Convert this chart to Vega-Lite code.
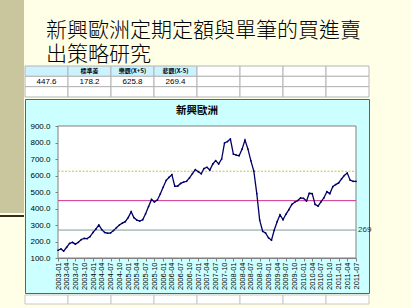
{
  "$schema": "https://vega.github.io/schema/vega-lite/v6.json",
  "background": "#FFFEE6",
  "padding": {"left": 0, "top": 0, "right": 43, "bottom": 9},
  "spacing": 0,
  "config": {"view": {"stroke": null}, "concat": {"spacing": 0}},
  "hconcat": [
    {
      "spacing": 0,
      "vconcat": [
        {"width": 24, "height": 213, "view": {"fill": "#C9C59C"}, "data": {"values": [{}]}, "mark": {"type": "point", "opacity": 0}},
        {"width": 24, "height": 2, "view": {"fill": "#3A2A1A"}, "data": {"values": [{}]}, "mark": {"type": "point", "opacity": 0}}
      ]
    },
    {
      "spacing": 0,
      "vconcat": [
        {
          "width": 344, "height": 65,
          "data": {"values": [{}]},
          "mark": {"type": "point", "opacity": 0},
          "title": {
            "text": ["新興歐洲定期定額與單筆的買進賣", "出策略研究"],
            "orient": "top", "anchor": "start", "offset": -86, "dx": 21,
            "baseline": "bottom", "lineHeight": 24.5,
            "font": "Noto Sans CJK TC", "fontSize": 21, "fontWeight": 300, "color": "#000000"
          }
        },
        {
          "width": 344, "height": 31,
          "data": {"values": [
            {"r": 0, "c": 0, "t": ""}, {"r": 0, "c": 1, "t": "標準差"}, {"r": 0, "c": 2, "t": "樂觀(X+S)"}, {"r": 0, "c": 3, "t": "悲觀(X-S)"},
            {"r": 0, "c": 4, "t": ""}, {"r": 0, "c": 5, "t": ""}, {"r": 0, "c": 6, "t": ""}, {"r": 0, "c": 7, "t": ""},
            {"r": 1, "c": 0, "t": "447.6"}, {"r": 1, "c": 1, "t": "178.2"}, {"r": 1, "c": 2, "t": "625.8"}, {"r": 1, "c": 3, "t": "269.4"},
            {"r": 1, "c": 4, "t": ""}, {"r": 1, "c": 5, "t": ""}, {"r": 1, "c": 6, "t": ""}, {"r": 1, "c": 7, "t": ""},
            {"r": 2, "c": 0, "t": ""}, {"r": 2, "c": 1, "t": ""}, {"r": 2, "c": 2, "t": ""}, {"r": 2, "c": 3, "t": ""},
            {"r": 2, "c": 4, "t": ""}, {"r": 2, "c": 5, "t": ""}, {"r": 2, "c": 6, "t": ""}, {"r": 2, "c": 7, "t": ""}
          ]},
          "encoding": {
            "x": {"field": "c", "type": "ordinal", "axis": null, "scale": {"paddingInner": 0, "paddingOuter": 0}},
            "y": {"field": "r", "type": "ordinal", "axis": null, "scale": {"paddingInner": 0, "paddingOuter": 0}}
          },
          "layer": [
            {
              "mark": {"type": "rect", "stroke": "#B4B4B4", "strokeWidth": 1},
              "encoding": {"fill": {"condition": {"test": "datum.r == 0 && datum.c < 4", "value": "#CCF2FF"}, "value": "#FFFFFF"}}
            },
            {
              "transform": [{"filter": "datum.r == 0"}],
              "mark": {"type": "text", "font": "Noto Sans CJK TC", "fontSize": 6, "fontWeight": "bold", "color": "#000000"},
              "encoding": {"text": {"field": "t"}}
            },
            {
              "transform": [{"filter": "datum.r > 0"}],
              "mark": {"type": "text", "font": "Liberation Sans", "fontSize": 8, "color": "#000000"},
              "encoding": {"text": {"field": "t"}}
            }
          ]
        },
        {
          "width": 344, "height": 194,
          "view": {"fill": "#CCFFFF", "stroke": "#606060"},
          "title": {"text": "新興歐洲", "orient": "top", "anchor": "middle", "offset": -22, "baseline": "middle", "font": "Noto Sans CJK TC", "fontSize": 10.5, "fontWeight": "bold", "color": "#000000"},
          "layer": [
            {
              "data": {"values": [{}]},
              "mark": {"type": "rect", "fill": "#FFFFFF", "stroke": "#808080", "strokeWidth": 1},
              "encoding": {
                "x": {"datum": {"year": 2003, "month": 1, "date": 1, "utc": true}, "type": "temporal",
                  "scale": {"type": "utc", "domain": [{"year": 2003, "month": 1, "date": 1, "utc": true}, {"year": 2011, "month": 7, "date": 1, "utc": true}], "range": [33, 331]},
                  "axis": {"orient": "bottom", "offset": -35, "format": "%Y-%m", "tickCount": {"interval": "month", "step": 3}, "labelAngle": -90, "labelFont": "Liberation Sans", "labelFontSize": 7.5, "labelColor": "#000000", "tickSize": 3, "tickColor": "#808080", "domainColor": "#808080", "labelPadding": 1, "grid": false, "title": null, "labelOverlap": false, "labelFlush": false}},
                "x2": {"datum": {"year": 2011, "month": 7, "date": 1, "utc": true}},
                "y": {"datum": 100, "type": "quantitative",
                  "scale": {"domain": [100, 900], "range": [159, 27], "nice": false, "zero": false},
                  "axis": {"orient": "left", "offset": -33, "values": [100, 200, 300, 400, 500, 600, 700, 800, 900], "tickCount": 9, "format": ".1f", "labelFont": "Liberation Sans", "labelFontSize": 8, "labelColor": "#000000", "tickSize": 3, "tickColor": "#808080", "domainColor": "#808080", "labelPadding": 5, "grid": false, "title": null, "labelOverlap": false, "labelFlush": false}},
                "y2": {"datum": 900}
              }
            },
            {
              "data": {"values": [
                {"k": "樂觀", "v": 625.8},
                {"k": "平均", "v": 447.6},
                {"k": "悲觀", "v": 269.4}
              ]},
              "layer": [
                {
                  "mark": {"type": "rule", "strokeWidth": 1},
                  "encoding": {
                    "x": {"datum": {"year": 2003, "month": 1, "date": 1, "utc": true}, "type": "temporal", "title": null},
                    "x2": {"datum": {"year": 2011, "month": 7, "date": 1, "utc": true}},
                    "y": {"field": "v", "type": "quantitative", "title": null},
                    "color": {"field": "k", "type": "nominal", "legend": null, "scale": {"domain": ["樂觀", "平均", "悲觀"], "range": ["#C4C430", "#D0308C", "#7C9C9C"]}},
                    "strokeDash": {"field": "k", "type": "nominal", "legend": null, "scale": {"domain": ["樂觀", "平均", "悲觀"], "range": [[2, 1.5], [1, 0], [1, 0]]}}
                  }
                },
                {
                  "transform": [{"filter": "datum.k == '悲觀'"}],
                  "mark": {"type": "text", "align": "left", "baseline": "middle", "dx": 2, "font": "Liberation Sans", "fontSize": 8, "color": "#333333"},
                  "encoding": {
                    "x": {"datum": {"year": 2011, "month": 7, "date": 1, "utc": true}, "type": "temporal", "title": null},
                    "y": {"field": "v", "type": "quantitative", "title": null},
                    "text": {"field": "v", "type": "quantitative", "format": ".0f"}
                  }
                }
              ]
            },
            {
              "data": {"values": [
                {"d": "2003-01-01", "v": 147}, {"d": "2003-02-01", "v": 155}, {"d": "2003-03-01", "v": 142}, {"d": "2003-04-01", "v": 165},
                {"d": "2003-05-01", "v": 188}, {"d": "2003-06-01", "v": 195}, {"d": "2003-07-01", "v": 184}, {"d": "2003-08-01", "v": 195},
                {"d": "2003-09-01", "v": 212}, {"d": "2003-10-01", "v": 219}, {"d": "2003-11-01", "v": 218}, {"d": "2003-12-01", "v": 230},
                {"d": "2004-01-01", "v": 255}, {"d": "2004-02-01", "v": 276}, {"d": "2004-03-01", "v": 300}, {"d": "2004-04-01", "v": 272},
                {"d": "2004-05-01", "v": 255}, {"d": "2004-06-01", "v": 250}, {"d": "2004-07-01", "v": 252}, {"d": "2004-08-01", "v": 266},
                {"d": "2004-09-01", "v": 284}, {"d": "2004-10-01", "v": 300}, {"d": "2004-11-01", "v": 311}, {"d": "2004-12-01", "v": 320},
                {"d": "2005-01-01", "v": 345}, {"d": "2005-02-01", "v": 381}, {"d": "2005-03-01", "v": 345}, {"d": "2005-04-01", "v": 330},
                {"d": "2005-05-01", "v": 324}, {"d": "2005-06-01", "v": 332}, {"d": "2005-07-01", "v": 368}, {"d": "2005-08-01", "v": 412},
                {"d": "2005-09-01", "v": 455}, {"d": "2005-10-01", "v": 440}, {"d": "2005-11-01", "v": 452}, {"d": "2005-12-01", "v": 488},
                {"d": "2006-01-01", "v": 530}, {"d": "2006-02-01", "v": 571}, {"d": "2006-03-01", "v": 588}, {"d": "2006-04-01", "v": 605},
                {"d": "2006-05-01", "v": 535}, {"d": "2006-06-01", "v": 536}, {"d": "2006-07-01", "v": 552}, {"d": "2006-08-01", "v": 560},
                {"d": "2006-09-01", "v": 565}, {"d": "2006-10-01", "v": 585}, {"d": "2006-11-01", "v": 612}, {"d": "2006-12-01", "v": 636},
                {"d": "2007-01-01", "v": 623}, {"d": "2007-02-01", "v": 611}, {"d": "2007-03-01", "v": 642}, {"d": "2007-04-01", "v": 650},
                {"d": "2007-05-01", "v": 633}, {"d": "2007-06-01", "v": 670}, {"d": "2007-07-01", "v": 690}, {"d": "2007-08-01", "v": 670},
                {"d": "2007-09-01", "v": 700}, {"d": "2007-10-01", "v": 797}, {"d": "2007-11-01", "v": 806}, {"d": "2007-12-01", "v": 821},
                {"d": "2008-01-01", "v": 730}, {"d": "2008-02-01", "v": 723}, {"d": "2008-03-01", "v": 720}, {"d": "2008-04-01", "v": 760},
                {"d": "2008-05-01", "v": 815}, {"d": "2008-06-01", "v": 760}, {"d": "2008-07-01", "v": 690}, {"d": "2008-08-01", "v": 627},
                {"d": "2008-09-01", "v": 490}, {"d": "2008-10-01", "v": 330}, {"d": "2008-11-01", "v": 262}, {"d": "2008-12-01", "v": 252},
                {"d": "2009-01-01", "v": 222}, {"d": "2009-02-01", "v": 208}, {"d": "2009-03-01", "v": 268}, {"d": "2009-04-01", "v": 320},
                {"d": "2009-05-01", "v": 362}, {"d": "2009-06-01", "v": 332}, {"d": "2009-07-01", "v": 365}, {"d": "2009-08-01", "v": 393},
                {"d": "2009-09-01", "v": 425}, {"d": "2009-10-01", "v": 438}, {"d": "2009-11-01", "v": 448}, {"d": "2009-12-01", "v": 464},
                {"d": "2010-01-01", "v": 462}, {"d": "2010-02-01", "v": 445}, {"d": "2010-03-01", "v": 492}, {"d": "2010-04-01", "v": 490},
                {"d": "2010-05-01", "v": 425}, {"d": "2010-06-01", "v": 415}, {"d": "2010-07-01", "v": 440}, {"d": "2010-08-01", "v": 465},
                {"d": "2010-09-01", "v": 502}, {"d": "2010-10-01", "v": 490}, {"d": "2010-11-01", "v": 532}, {"d": "2010-12-01", "v": 545},
                {"d": "2011-01-01", "v": 555}, {"d": "2011-02-01", "v": 580}, {"d": "2011-03-01", "v": 600}, {"d": "2011-04-01", "v": 615},
                {"d": "2011-05-01", "v": 572}, {"d": "2011-06-01", "v": 565}, {"d": "2011-07-01", "v": 565}
              ]},
              "mark": {"type": "line", "color": "#000066", "strokeWidth": 1.3, "point": {"filled": true, "size": 3, "color": "#000066"}},
              "encoding": {
                "x": {"field": "d", "type": "temporal", "title": null},
                "y": {"field": "v", "type": "quantitative", "title": null}
              }
            }
          ]
        },
        {
          "width": 344, "height": 9,
          "data": {"values": [{"c": 0}, {"c": 1}, {"c": 2}, {"c": 3}, {"c": 4}, {"c": 5}, {"c": 6}, {"c": 7}]},
          "mark": {"type": "rect", "fill": "#FFFFFF", "stroke": "#C8C8C8", "strokeWidth": 1},
          "encoding": {
            "x": {"field": "c", "type": "ordinal", "axis": null, "scale": {"paddingInner": 0, "paddingOuter": 0}}
          }
        }
      ]
    }
  ]
}
